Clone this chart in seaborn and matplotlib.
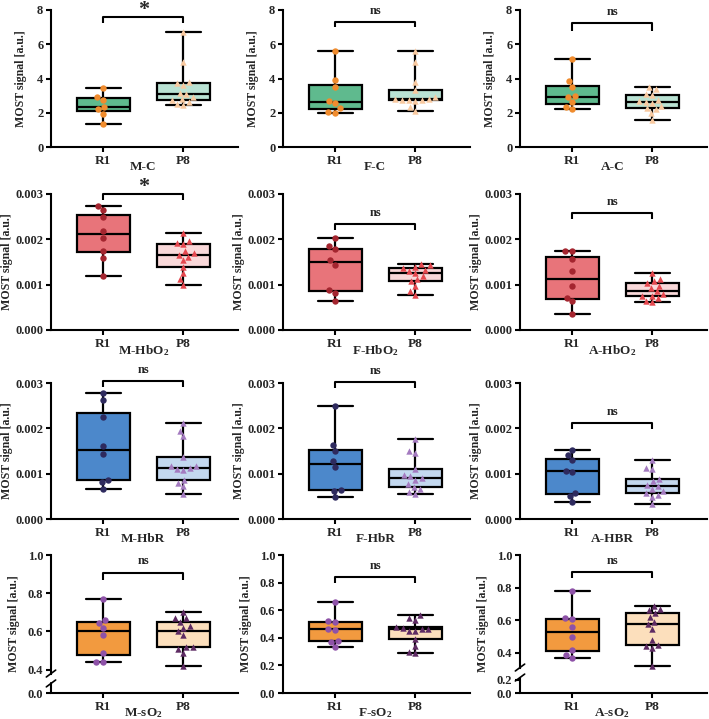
import numpy as np
import pandas as pd
import matplotlib
matplotlib.use("Agg")
import matplotlib.pyplot as plt
from matplotlib.ticker import FormatStrFormatter, FixedLocator
import seaborn as sns

sns.set_style("ticks")
plt.rcParams["font.family"] = ["Liberation Serif", "DejaVu Serif"]
plt.rcParams["font.weight"] = "bold"
plt.rcParams["axes.labelweight"] = "bold"
plt.rcParams["mathtext.fontset"] = "custom"
plt.rcParams["mathtext.rm"] = "Liberation Serif:bold"
plt.rcParams["mathtext.it"] = "Liberation Serif:bold"
plt.rcParams["mathtext.bf"] = "Liberation Serif:bold"

groups = ["R1", "P8"]

# ---- row 1: C ----
mc_r1 = [1.33, 1.95, 2.20, 2.34, 2.75, 2.92, 3.47]
mc_p8 = [2.44, 2.50, 2.60, 2.73, 2.80, 2.93, 3.08, 3.16, 3.60, 3.75, 3.80, 4.98, 6.73]
fc_r1 = [2.00, 2.02, 2.25, 2.58, 2.66, 3.50, 3.92, 5.63]
fc_p8 = [2.08, 2.33, 2.70, 2.72, 2.74, 2.76, 2.78, 2.82, 2.91, 3.34, 3.79, 4.95, 5.63]
ac_r1 = [2.22, 2.36, 2.60, 2.90, 2.98, 3.50, 3.83, 5.15]
ac_p8 = [1.60, 1.96, 2.20, 2.26, 2.40, 2.55, 2.65, 2.68, 2.75, 3.05, 3.10, 3.38, 3.50]

# ---- row 2: HbO2 ----
mhbo_r1 = [1.20e-3, 1.59e-3, 1.75e-3, 2.04e-3, 2.19e-3, 2.50e-3, 2.65e-3, 2.74e-3]
mhbo_p8 = [1.00e-3, 1.12e-3, 1.25e-3, 1.40e-3, 1.54e-3, 1.62e-3, 1.66e-3, 1.70e-3,
           1.74e-3, 1.90e-3, 1.93e-3, 1.97e-3, 2.13e-3]
fhbo_r1 = [0.65e-3, 0.81e-3, 0.88e-3, 1.44e-3, 1.54e-3, 1.78e-3, 1.85e-3, 2.03e-3]
fhbo_p8 = [0.77e-3, 0.86e-3, 0.98e-3, 1.08e-3, 1.12e-3, 1.20e-3, 1.26e-3, 1.30e-3,
           1.33e-3, 1.37e-3, 1.40e-3, 1.43e-3, 1.45e-3]
ahbo_r1 = [0.35e-3, 0.63e-3, 0.71e-3, 0.96e-3, 1.30e-3, 1.56e-3, 1.74e-3, 1.74e-3]
ahbo_p8 = [0.62e-3, 0.63e-3, 0.70e-3, 0.74e-3, 0.76e-3, 0.79e-3, 0.85e-3, 0.93e-3,
           0.98e-3, 1.04e-3, 1.08e-3, 1.13e-3, 1.26e-3]

# ---- row 3: HbR ----
mhbr_r1 = [0.67e-3, 0.81e-3, 0.87e-3, 1.43e-3, 1.61e-3, 2.25e-3, 2.62e-3, 2.79e-3]
mhbr_p8 = [0.56e-3, 0.72e-3, 0.79e-3, 0.86e-3, 1.08e-3, 1.10e-3, 1.12e-3, 1.16e-3,
           1.18e-3, 1.36e-3, 1.83e-3, 1.95e-3, 2.11e-3]
fhbr_r1 = [0.48e-3, 0.62e-3, 0.64e-3, 1.14e-3, 1.27e-3, 1.50e-3, 1.63e-3, 2.49e-3]
fhbr_p8 = [0.56e-3, 0.60e-3, 0.66e-3, 0.70e-3, 0.78e-3, 0.85e-3, 0.90e-3, 0.94e-3,
           0.97e-3, 1.10e-3, 1.45e-3, 1.49e-3, 1.76e-3]
ahbr_r1 = [0.37e-3, 0.50e-3, 0.57e-3, 1.04e-3, 1.06e-3, 1.30e-3, 1.41e-3, 1.52e-3]
ahbr_p8 = [0.34e-3, 0.48e-3, 0.53e-3, 0.57e-3, 0.61e-3, 0.66e-3, 0.73e-3, 0.75e-3,
           0.83e-3, 0.88e-3, 1.10e-3, 1.12e-3, 1.30e-3]

# ---- row 4: sO2 ----
mso_r1 = [0.44, 0.44, 0.49, 0.58, 0.62, 0.645, 0.66, 0.77]
mso_p8 = [0.42, 0.49, 0.51, 0.52, 0.52, 0.58, 0.60, 0.62, 0.63, 0.65, 0.67, 0.67, 0.70]
fso_r1 = [0.333, 0.370, 0.375, 0.460, 0.465, 0.515, 0.520, 0.663]
fso_p8 = [0.290, 0.294, 0.337, 0.390, 0.446, 0.450, 0.463, 0.465, 0.470, 0.477,
          0.530, 0.540, 0.566]
aso_r1 = [0.370, 0.384, 0.420, 0.500, 0.560, 0.610, 0.612, 0.780]
aso_p8 = [0.32, 0.43, 0.44, 0.45, 0.48, 0.545, 0.575, 0.59, 0.62, 0.643, 0.66, 0.67, 0.69]

names = ["M-C", "F-C", "A-C",
         "M-HbO$_{2}$", "F-HbO$_{2}$", "A-HbO$_{2}$",
         "M-HbR", "F-HbR", "A-HBR",
         "M-sO$_{2}$", "F-sO$_{2}$", "A-sO$_{2}$"]
data_r1 = [mc_r1, fc_r1, ac_r1, mhbo_r1, fhbo_r1, ahbo_r1,
           mhbr_r1, fhbr_r1, ahbr_r1, mso_r1, fso_r1, aso_r1]
data_p8 = [mc_p8, fc_p8, ac_p8, mhbo_p8, fhbo_p8, ahbo_p8,
           mhbr_p8, fhbr_p8, ahbr_p8, mso_p8, fso_p8, aso_p8]
signif = ["*", "ns", "ns", "*", "ns", "ns", "ns", "ns", "ns", "ns", "ns", "ns"]
# bracket (top, leg end)
brackets = [(7.6, 7.22), (7.32, 7.03), (7.23, 6.78),
            (3.0e-3, 2.87e-3), (2.33e-3, 2.21e-3), (2.58e-3, 2.44e-3),
            (3.04e-3, 2.91e-3), (3.02e-3, 2.90e-3), (2.11e-3, 1.98e-3),
            (0.908, 0.87), (0.84, 0.80), (0.898, 0.861)]

row_box = [("#5FBA8E", "#B9E2D3"), ("#E8747A", "#F9D8D9"),
           ("#4C88CB", "#C3D8EF"), ("#F29A3F", "#FCDFBC")]
row_pts = [("#F08C2E", "#F8C9A0"), ("#A4252F", "#E5484F"),
           ("#2E2A5E", "#A47BC0"), ("#8E52A8", "#5E2B63")]
row_ticks = [[0, 2, 4, 6, 8], [0, 0.001, 0.002, 0.003], [0, 0.001, 0.002, 0.003], None]
row_fmt = ["%d", "%.3f", "%.3f", "%.1f"]
row_ylab = [-24, -38, -38, -31]

col_left = [51, 283, 520]
row_top = [10, 194, 383, 555]
row_bot = [147, 330, 519, 693]
W, H = 709, 719
AXW = 187

# broken axes for sO2 panels: (data breakpoints, pixel breakpoints, spine segments)
breaks = {
    9: ([-1, 0, 0.05, 0.38, 1.0, 2.0], [-575, 0, 28.75, 58.5, 415, 990],
        (0.0, 0.05), (0.38, 1.0), [0, 0.4, 0.6, 0.8, 1.0]),
    10: (None, None, None, None, [0, 0.2, 0.4, 0.6, 0.8, 1.0]),
    11: ([-1, 0, 0.2, 0.3, 1.0, 2.0], [-200, 0, 40, 71.25, 412.5, 900],
         (0.0, 0.22), (0.31, 1.0), [0, 0.2, 0.4, 0.6, 0.8, 1.0]),
}

fig = plt.figure(figsize=(W / 100, H / 100), dpi=100)

for i in range(12):
    r, c = divmod(i, 3)
    ax = fig.add_axes([col_left[c] / W, 1 - row_bot[r] / H,
                       AXW / W, (row_bot[r] - row_top[r]) / H])
    r1, p8 = data_r1[i], data_p8[i]
    df = pd.DataFrame({"group": ["R1"] * len(r1) + ["P8"] * len(p8),
                       "value": r1 + p8})
    sns.boxplot(data=df, x="group", y="value", hue="group", order=groups,
                hue_order=groups, palette=dict(zip(groups, row_box[r])),
                width=0.66, whis=(0, 100), showfliers=False, linecolor="black",
                linewidth=1.6, saturation=1, legend=False, capwidths=0.44, ax=ax)
    for g, mk, col in zip(groups, ["o", "^"], row_pts[r]):
        sub = df[df["group"] == g]
        sns.swarmplot(data=sub, x="group", y="value", order=groups, color=col,
                      marker=mk, size=4.6, linewidth=0, zorder=3, ax=ax)

    ticks = row_ticks[r]
    if r == 3:
        ticks = breaks[i][4]
        if breaks[i][0] is not None:
            ys, ps = breaks[i][0], breaks[i][1]
            ax.set_yscale("function",
                          functions=(lambda v, ys=ys, ps=ps: np.interp(v, ys, ps),
                                     lambda v, ys=ys, ps=ps: np.interp(v, ps, ys)))
    ax.set_xlim(-0.65, 1.68)
    ax.set_ylim(0, ticks[-1])
    ax.yaxis.set_major_locator(FixedLocator(ticks))
    ax.yaxis.set_major_formatter(FormatStrFormatter(row_fmt[r]))
    ax.minorticks_off()

    for s in ["top", "right"]:
        ax.spines[s].set_visible(False)
    for s in ["left", "bottom"]:
        ax.spines[s].set_linewidth(1.5)
        ax.spines[s].set_color("black")
    ax.tick_params(axis="both", width=1.5, length=3.5, labelsize=9,
                   color="black", pad=2)
    ax.tick_params(axis="x", labelsize=9.5)
    for lab in ax.get_xticklabels() + ax.get_yticklabels():
        lab.set_fontweight("bold")

    ax.set_xlabel("")
    ax.set_ylabel("MOST signal [a.u.]", fontsize=8.6, fontweight="bold")
    ax.yaxis.set_label_coords(row_ylab[r] / AXW, 0.5)

    ax.annotate(names[i], xy=(0.5, 0), xycoords=("data", "axes fraction"),
                xytext=(0, -14.5), textcoords="offset points", ha="center",
                va="center", fontsize=9.5, fontweight="bold", annotation_clip=False)

    # significance bracket
    top, leg = brackets[i]
    x0, x1 = groups.index("R1"), groups.index("P8")
    ax.plot([x0, x0, x1, x1], [leg, top, top, leg], color="black", lw=1.5,
            clip_on=False, solid_capstyle="butt", zorder=4)
    if signif[i] == "*":
        ax.annotate("*", xy=((x0 + x1) / 2, top), xytext=(0, 5),
                    textcoords="offset points", ha="center", va="center",
                    fontsize=16, fontweight="bold", annotation_clip=False)
    else:
        ax.annotate("ns", xy=((x0 + x1) / 2, top), xytext=(0, 8),
                    textcoords="offset points", ha="center", va="center",
                    fontsize=9, fontweight="bold", annotation_clip=False)

    # axis break marks
    if r == 3 and breaks[i][0] is not None:
        low, up = breaks[i][2], breaks[i][3]
        ax.spines["left"].set_bounds(up[0], up[1])
        trans = ax.get_yaxis_transform()
        ax.plot([0, 0], [low[0], low[1]], color="black", lw=1.5,
                transform=trans, clip_on=False)
        inv = ax.transAxes.inverted()
        for yv in (low[1], up[0]):
            fy = inv.transform(ax.transData.transform((0, yv)))[1]
            ax.plot([-0.025, 0.025], [fy - 0.025, fy + 0.025], color="black",
                    lw=1.2, transform=ax.transAxes, clip_on=False)

fig.savefig("out.png", dpi=100, facecolor="white")
